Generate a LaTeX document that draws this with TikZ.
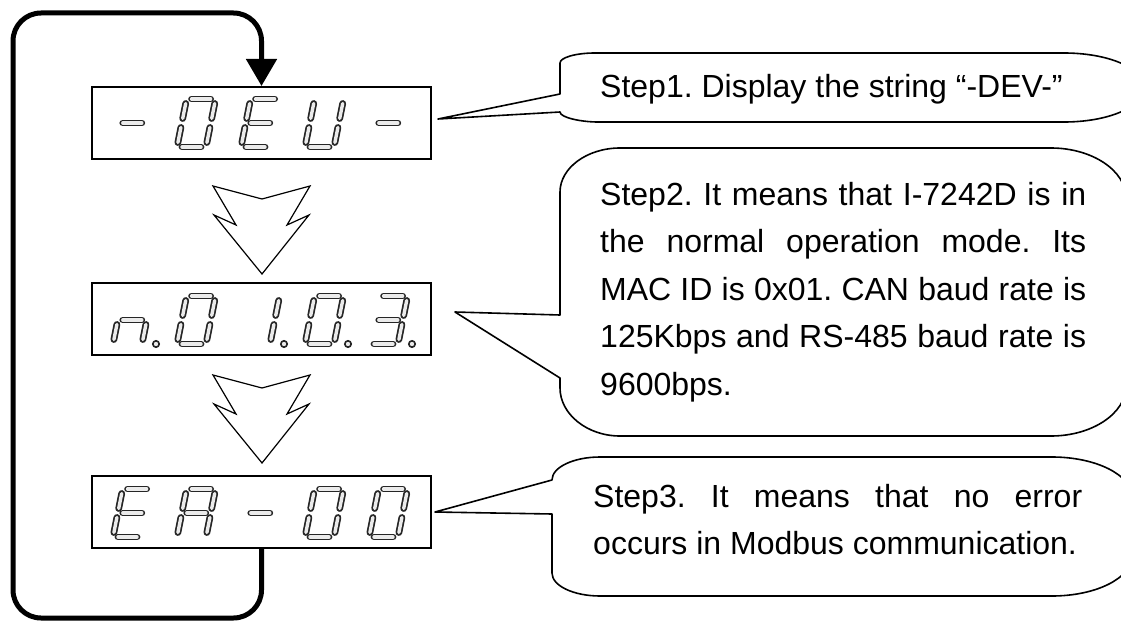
\documentclass[tikz,border=0pt]{standalone}
\usepackage{fontspec}
\setmainfont{Liberation Sans}
\usetikzlibrary{arrows.meta}
\tikzset{
  seg/.style={draw=black!85, double=black!8, double distance=3.4pt, line width=1.7pt, line cap=round},
  segdot/.style={draw=black!85, fill=black!8, line width=1.6pt},
  dispbox/.style={draw, line width=2pt, minimum width=339pt, minimum height=72pt, inner sep=0pt},
  chev/.style={draw, line width=1.2pt, line join=miter},
  callout/.style={draw, line width=1.6pt, line join=round},
  loopline/.style={draw, line width=5pt, rounded corners=28pt},
  txt/.style={font=\fontsize{32}{47.5}\selectfont\frenchspacing, inner sep=0pt, anchor=base west}
}
\newcommand\sg[4]{\draw[seg] ({\DX+#1+0.2*(#2)},{\DY-(#2)}) -- ({\DX+#3+0.2*(#4)},{\DY-(#4)});}
\newcommand\segA{\sg{5}{48}{24}{48}}
\newcommand\segB{\sg{29}{43.5}{29}{28.5}}
\newcommand\segC{\sg{29}{19.5}{29}{4.5}}
\newcommand\segD{\sg{5}{0}{24}{0}}
\newcommand\segE{\sg{0}{19.5}{0}{4.5}}
\newcommand\segF{\sg{0}{43.5}{0}{28.5}}
\newcommand\segG{\sg{5}{24}{24}{24}}
\newcommand\segP{\draw[segdot] ({\DX+43},{\DY}) circle (3.2);}
\newcommand\digit[3]{\def\DX{#1}\def\DY{#2}\foreach \sname in {#3}{\csname seg\sname\endcsname}}
\begin{document}
\begin{tikzpicture}[x=1pt,y=-1pt]
\useasboundingbox (0,0) rectangle (1121,623);
\fill[white] (0,0) rectangle (1121,623);

% display boxes
\node[dispbox] (b1) at (261.5,123) {};
\node[dispbox] (b2) at (261.5,318.5) {};
\node[dispbox] (b3) at (261.5,511.5) {};

% box 1: - 0 E U -
\digit{113}{147}{G}
\digit{177}{147}{A,B,C,D,E,F}
\digit{241}{147}{A,D,E,F,G}
\digit{305}{147}{B,C,D,E,F}
\digit{369}{147}{G}
% box 2: n. 0 1. 0. 3.
\digit{113}{344}{C,E,G,P}
\digit{177}{344}{A,B,C,D,E,F}
\digit{241}{344}{B,C,P}
\digit{305}{344}{A,B,C,D,E,F,P}
\digit{369}{344}{A,B,C,D,G,P}
% box 3: E A - 0 0
\digit{113}{537}{A,D,E,F,G}
\digit{177}{537}{A,B,C,E,F,G}
\digit{241}{537}{G}
\digit{305}{537}{A,B,C,D,E,F}
\digit{369}{537}{A,B,C,D,E,F}

% chevrons
\draw[chev] (213,186) -- (262,199) -- (310,186) -- (287,225) -- (309,215) -- (262,274) -- (214,215) -- (236,225) -- cycle;
\draw[chev] (213,375) -- (262,388) -- (310,375) -- (287,414) -- (309,404) -- (262,463) -- (214,404) -- (236,414) -- cycle;

% loop connector
\coordinate (lb) at (261.5,618);
\coordinate (ll) at (13,618);
\coordinate (lt) at (13,13);
\coordinate (lr) at (261.5,13);
\draw[loopline, -{Triangle[width=30pt,length=27pt]}] (b3.south) -- (lb) -- (ll) -- (lt) -- (lr) -- (b1.north);

% callouts
\begin{scope}
\clip (0,0) rectangle (1121,623);
\draw[callout] (560,94) -- (438,119) -- (560,112)
  .. controls (560,117.5) and (581,122) .. (598,122) -- (1064,122)
  .. controls (1108,122) and (1144,107) .. (1144,87.5)
  .. controls (1144,68) and (1108,53) .. (1064,53) -- (595,53)
  .. controls (576,53) and (560,57.5) .. (560,63) -- cycle;
\draw[callout] (560,315) -- (455,312) -- (560,378) -- (560,388)
  .. controls (560,414) and (587,436) .. (620,436) -- (1051,436)
  .. controls (1092,436) and (1126,413.5) .. (1126,386) -- (1126,198)
  .. controls (1126,170.5) and (1092,148) .. (1051,148) -- (620,148)
  .. controls (587,148) and (560,168) .. (560,192) -- cycle;
\draw[callout] (552,480) -- (435,512) -- (552,514) -- (552,573)
  .. controls (552,586) and (574,596) .. (600,596) -- (1052,596)
  .. controls (1096,596) and (1132,578) .. (1132,556) -- (1132,497)
  .. controls (1132,475) and (1096,457) .. (1052,457) -- (600,457)
  .. controls (574,457) and (552,467) .. (552,480) -- cycle;
\end{scope}

% texts
\node[txt] (t1) at (600,98) {Step1. Display the string “-DEV-”};
\node[txt, text width=486pt, align=justify] (t2) at (600,205) {Step2. It means that I-7242D is in\linebreak the normal operation mode. Its\linebreak MAC ID is 0x01. CAN baud rate is\linebreak 125Kbps and RS-485 baud rate is\linebreak 9600bps.};
\node[txt, text width=489pt, align=justify] (t3) at (593,507) {Step3. It means that no error\linebreak occurs in Modbus communication.};
\end{tikzpicture}
\end{document}
